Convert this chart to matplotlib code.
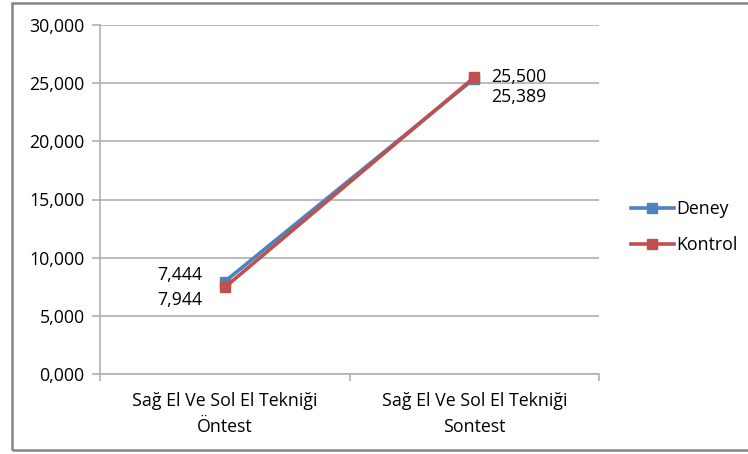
import matplotlib.pyplot as plt
from matplotlib.patches import Rectangle
from matplotlib.ticker import FuncFormatter

plt.rcParams['font.family'] = ['Open Sans', 'DejaVu Sans']

categories = ['Sağ El Ve Sol El Tekniği\nÖntest', 'Sağ El Ve Sol El Tekniği\nSontest']
deney = [7.944, 25.389]
kontrol = [7.444, 25.500]

BLUE = '#4F81BD'
RED = '#C0504D'
GRID = '#B0B0B0'
FS = 12.8


def tr_fmt(v):
    return f'{v:.3f}'.replace('.', ',')


fig = plt.figure(figsize=(7.48, 4.54), dpi=100)
W, H = 748, 454
ax = fig.add_axes([100 / W, 1 - 374 / H, 499 / W, 349 / H])

# chart border
fig.add_artist(Rectangle((12 / W, 4 / H), 1.0, 1 - 7 / H, transform=fig.transFigure,
                         fill=False, edgecolor='#858585', linewidth=1.8))

x = list(range(len(categories)))
ax.plot(x, deney, color=BLUE, lw=2.6, marker='s', ms=7.5, label='Deney', zorder=3)
ax.plot(x, kontrol, color=RED, lw=2.6, marker='s', ms=7.5, label='Kontrol', zorder=4)

ax.set_xlim(-0.5, 1.5)
ax.set_ylim(0, 30)
ax.set_yticks(range(0, 31, 5))
ax.yaxis.set_major_formatter(FuncFormatter(lambda v, p: tr_fmt(v)))
ax.grid(axis='y', color=GRID, lw=1.2)
ax.set_axisbelow(True)

ax.set_xticks([-0.5, 0.5, 1.5])
ax.set_xticklabels([])
ax.set_xticks(x, minor=True)
ax.set_xticklabels(categories, minor=True, fontsize=FS, linespacing=1.55)
ax.tick_params(axis='x', which='minor', length=0, pad=13)
ax.tick_params(axis='x', which='major', length=5, color=GRID, width=1.2)
ax.tick_params(axis='y', length=6, color=GRID, width=1.2, labelsize=FS, pad=5)

for s in ['top', 'right']:
    ax.spines[s].set_visible(False)
for s in ['left', 'bottom']:
    ax.spines[s].set_color(GRID)
    ax.spines[s].set_linewidth(1.2)

# data labels
ax.annotate(tr_fmt(kontrol[0]), (x[0], kontrol[0]), xytext=(-22, 12), textcoords='offset pixels',
            ha='right', va='center', fontsize=FS)
ax.annotate(tr_fmt(deney[0]), (x[0], deney[0]), xytext=(-22, -18), textcoords='offset pixels',
            ha='right', va='center', fontsize=FS)
ax.annotate(tr_fmt(kontrol[1]), (x[1], kontrol[1]), xytext=(17, 0), textcoords='offset pixels',
            ha='left', va='center', fontsize=FS)
ax.annotate(tr_fmt(deney[1]), (x[1], deney[1]), xytext=(17, -18), textcoords='offset pixels',
            ha='left', va='center', fontsize=FS)

fig.legend(loc='center left', bbox_to_anchor=(615 / W, 1 - 227 / H), frameon=False,
           fontsize=FS, handlelength=2.4, handletextpad=0.15, labelspacing=1.0)

fig.savefig('out.png', dpi=100)
